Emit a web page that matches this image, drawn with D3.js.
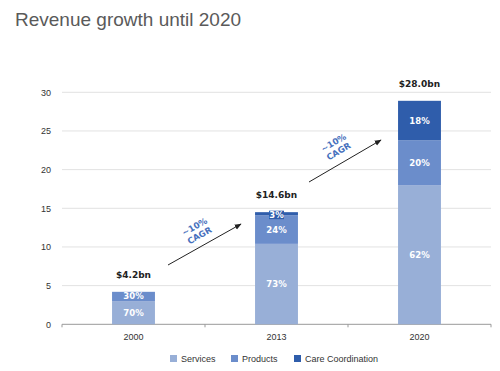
<!DOCTYPE html>
<html>
<head>
<meta charset="utf-8">
<script src="https://cdn.jsdelivr.net/npm/d3@7"></script>
<style>
  body { margin: 0; background: #fff; }
  svg { font-family: "Liberation Sans", Arial, sans-serif; }
  .bold { font-family: "DejaVu Sans", sans-serif; font-weight: bold; }
</style>
</head>
<body>
<svg width="500" height="371"></svg>
<script>

var years = ["2000", "2013", "2020"];
var series = ["Services", "Products", "Care Coordination"];
var services = [3.0, 10.4, 18.0];
var products = [1.2, 3.7, 5.8];
var careCoordination = [0, 0.4, 5.1];
var servicesPct = ["70%", "73%", "62%"];
var productsPct = ["30%", "24%", "20%"];
var carePct = ["", "3%", "18%"];
var totals = ["$4.2bn", "$14.6bn", "$28.0bn"];
var yTicks = [0, 5, 10, 15, 20, 25, 30];
var colors = ["#98afd7", "#6b8dcb", "#2f5dab"];

var svg = d3.select("svg");

var plotLeft = 62, plotRight = 491, plotTop = 92.3, plotBottom = 324.3;

var x = d3.scaleBand().domain(years).range([plotLeft, plotRight])
  .paddingInner(0.7).paddingOuter(0.35);
var y = d3.scaleLinear().domain([0, 30]).range([plotBottom, plotTop]);

// title
svg.append("text")
  .attr("x", 15).attr("y", 26)
  .attr("font-size", 19)
  .attr("fill", "#5a5a5a")
  .text("Revenue growth until 2020");

// grid
svg.append("g").selectAll("line")
  .data(yTicks.filter(function(d) { return d > 0; }))
  .enter().append("line")
  .attr("x1", plotLeft).attr("x2", plotRight)
  .attr("y1", function(d) { return y(d); })
  .attr("y2", function(d) { return y(d); })
  .attr("stroke", "#e2e2e2").attr("stroke-width", 1);

svg.append("g").selectAll("text")
  .data(yTicks)
  .enter().append("text")
  .attr("x", 51)
  .attr("y", function(d) { return y(d) + 3.2; })
  .attr("text-anchor", "end")
  .attr("font-size", 9)
  .attr("fill", "#333")
  .text(function(d) { return d; });

// x axis
var xAxis = svg.append("g");
xAxis.append("line")
  .attr("x1", plotLeft).attr("x2", plotRight)
  .attr("y1", plotBottom).attr("y2", plotBottom)
  .attr("stroke", "#999");
xAxis.selectAll(".tk")
  .data([0, 1, 2, 3])
  .enter().append("line")
  .attr("x1", function(i) { return plotLeft + i * x.step(); })
  .attr("x2", function(i) { return plotLeft + i * x.step(); })
  .attr("y1", plotBottom).attr("y2", plotBottom + 3)
  .attr("stroke", "#999");
xAxis.selectAll("text")
  .data(years)
  .enter().append("text")
  .attr("x", function(d) { return x(d) + x.bandwidth() / 2; })
  .attr("y", 339.5)
  .attr("text-anchor", "middle")
  .attr("font-size", 9)
  .attr("fill", "#333")
  .text(function(d) { return d; });

// stacked bars
var table = years.map(function(yr, i) {
  return { year: yr, "Services": services[i], "Products": products[i], "Care Coordination": careCoordination[i] };
});
var stack = d3.stack().keys(series)(table);
var pcts = [servicesPct, productsPct, carePct];

stack.forEach(function(layer, k) {
  svg.append("g").selectAll("rect")
    .data(layer)
    .enter().append("rect")
    .attr("x", function(d) { return x(d.data.year); })
    .attr("y", function(d) { return y(d[1]); })
    .attr("width", x.bandwidth())
    .attr("height", function(d) { return y(d[0]) - y(d[1]); })
    .attr("fill", colors[k]);
});

// segment labels
stack.forEach(function(layer, k) {
  layer.forEach(function(d, i) {
    var label = pcts[k][i];
    if (!label) return;
    var cx = x(d.data.year) + x.bandwidth() / 2;
    var cy = (y(d[0]) + y(d[1])) / 2 + 3;
    if (k == 2 && i == 1) {
      // thin segment: boxed label
      var by = y(d[1]) - 1.5;
      svg.append("rect")
        .attr("x", cx - 7.5).attr("y", by)
        .attr("width", 15).attr("height", 8.5)
        .attr("fill", colors[2]);
      cy = by + 7.3;
    }
    svg.append("text")
      .attr("class", "bold")
      .attr("x", cx).attr("y", cy)
      .attr("text-anchor", "middle")
      .attr("font-size", 8.5)
      .attr("fill", "#fff")
      .text(label);
  });
});

// totals
svg.append("g").selectAll("text")
  .data(years)
  .enter().append("text")
  .attr("class", "bold")
  .attr("x", function(d) { return x(d) + x.bandwidth() / 2; })
  .attr("y", function(d, i) { return y(services[i] + products[i] + careCoordination[i]) - 14; })
  .attr("text-anchor", "middle")
  .attr("font-size", 9)
  .attr("fill", "#222")
  .text(function(d, i) { return totals[i]; });

// CAGR arrows
svg.append("defs").append("marker")
  .attr("id", "arr")
  .attr("viewBox", "0 0 10 10")
  .attr("refX", 9).attr("refY", 5)
  .attr("markerWidth", 7).attr("markerHeight", 7)
  .attr("orient", "auto")
  .append("path").attr("d", "M0,1L10,5L0,9z").attr("fill", "#222");

var arrows = [
  { x1: 168, y1: 265, x2: 241, y2: 224, tx: 197, ty: 231 },
  { x1: 309, y1: 182, x2: 381, y2: 140, tx: 336, ty: 147 }
];

arrows.forEach(function(a) {
  svg.append("line")
    .attr("x1", a.x1).attr("y1", a.y1)
    .attr("x2", a.x2).attr("y2", a.y2)
    .attr("stroke", "#222").attr("stroke-width", 1)
    .attr("marker-end", "url(#arr)");
  var ang = Math.atan2(a.y2 - a.y1, a.x2 - a.x1) * 180 / Math.PI;
  var t = svg.append("text")
    .attr("class", "bold")
    .attr("transform", "translate(" + a.tx + "," + a.ty + ") rotate(" + ang + ")")
    .attr("text-anchor", "middle")
    .attr("font-size", 8.5)
    .attr("fill", "#4670bd");
  t.append("tspan").attr("x", 0).attr("y", -2).text("~10%");
  t.append("tspan").attr("x", 0).attr("y", 8).text("CAGR");
});

// legend
var legX = [170, 231, 294];
var leg = svg.append("g").selectAll("g")
  .data(series)
  .enter().append("g")
  .attr("transform", function(d, i) { return "translate(" + legX[i] + ",355)"; });
leg.append("rect")
  .attr("width", 7).attr("height", 7)
  .attr("fill", function(d, i) { return colors[i]; });
leg.append("text")
  .attr("x", 11).attr("y", 7)
  .attr("font-size", 9)
  .attr("fill", "#333")
  .text(function(d) { return d; });

</script>
</body>
</html>
